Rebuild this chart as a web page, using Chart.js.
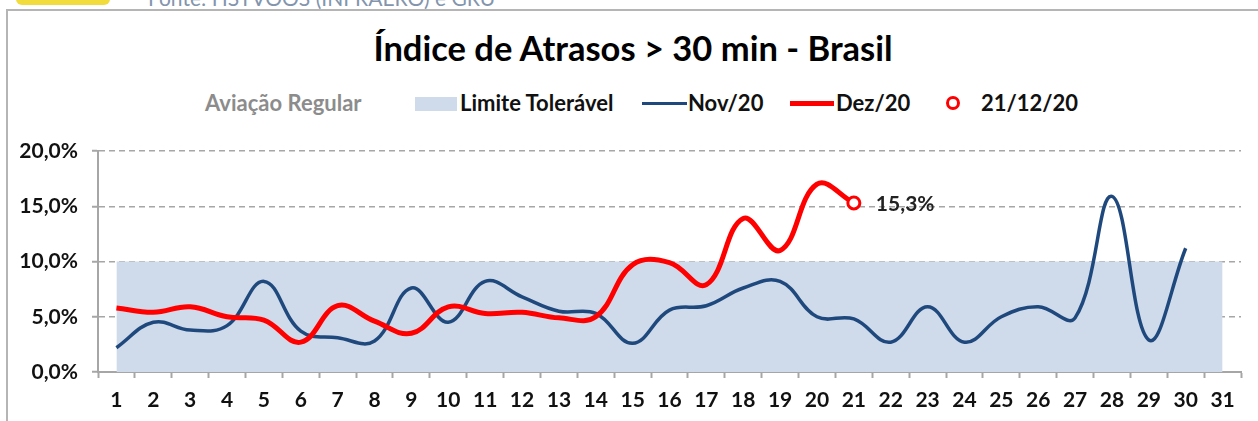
<!DOCTYPE html>
<html>
<head>
<meta charset="utf-8">
<script src="https://cdn.jsdelivr.net/npm/chart.js@4"></script>
<style>
  body { margin: 0; background: #fff; font-family: Lato, sans-serif; }
  #page { position: relative; width: 1258px; height: 421px; overflow: hidden; }
  #logo { position: absolute; left: 16px; top: -10px; width: 94px; height: 15px; background: #f2dc3c; border-radius: 0 0 6px 6px; }
  #fonte { position: absolute; left: 148px; top: -15px; font-size: 21px; color: #8395ad; white-space: nowrap; }
  #frame { position: absolute; left: 6px; top: 9px; width: 1300px; height: 500px; border: 2px solid #b5b5b5; }
  #title { position: absolute; left: 0; width: 1266px; top: 28px; line-height: 40px; text-align: center; font-size: 34.5px; font-weight: bold; color: #000; }
  .lg { position: absolute; top: 91px; font-size: 22px; font-weight: bold; color: #111; white-space: nowrap; line-height: 24px; }
  .sw { position: absolute; }
  canvas { position: absolute; left: 0; top: 0; }
</style>
</head>
<body>
<div id="page">
  <div id="logo"></div>
  <div id="fonte">Fonte: HSTVOOS (INFRAERO) e GRU</div>
  <div id="frame"></div>
  <div id="title">Índice de Atrasos &gt; 30 min - Brasil</div>
  <div id="legend"></div>
  <canvas id="chart" width="1258" height="421"></canvas>
</div>
<script>
// dias do mês
const days = ['1', '2', '3', '4', '5', '6', '7', '8', '9', '10', '11', '12', '13', '14', '15', '16',
  '17', '18', '19', '20', '21', '22', '23', '24', '25', '26', '27', '28', '29', '30', '31'];

// limite tolerável (%)
const limite = [10, 10, 10, 10, 10, 10, 10, 10, 10, 10, 10, 10, 10, 10, 10, 10,
  10, 10, 10, 10, 10, 10, 10, 10, 10, 10, 10, 10, 10, 10, 10];

// Nov/20 (%)
const nov = [2.2, 4.5, 3.8, 4.2, 8.2, 3.7, 3.1, 2.8, 7.6, 4.5, 8.2, 6.8, 5.5, 5.3, 2.6, 5.6,
  6.0, 7.6, 8.2, 5.0, 4.8, 2.7, 5.9, 2.7, 5.0, 5.9, 4.9, 15.9, 2.9, 11.2, null];

// Dez/20 (%) até o dia 21
const dez = [5.8, 5.4, 5.9, 5.0, 4.7, 2.7, 6.0, 4.6, 3.5, 5.9, 5.3, 5.4, 4.9, 5.0, 9.7, 9.9,
  7.9, 13.9, 11.0, 17.0, 15.3];

const yTicks = [0, 5, 10, 15, 20];
const lastDay = 20; // índice de 21/12/20

const blue = '#1f497d';
const red = '#ff0000';
const band = '#cfdbea';
const gridGray = '#a6a6a6';

const fmt = v => v.toFixed(1).replace('.', ',') + '%';

// marcador do último dia
const marker = days.map((d, i) => (i === lastDay ? dez[i] : null));

// legenda em html
const legendItems = [
  { left: 205, text: 'Aviação Regular', color: '#8c8c8c' },
  { left: 460, text: 'Limite Tolerável', sw: { left: 415, top: 97, width: 42, height: 14, background: band } },
  { left: 688, text: 'Nov/20', sw: { left: 642, top: 102, width: 45, height: 3, background: blue } },
  { left: 836, text: 'Dez/20', sw: { left: 790, top: 101, width: 44, height: 5, background: red } },
  { left: 981, text: '21/12/20', sw: { left: 946, top: 96, width: 8, height: 8, background: '#fff', border: '3px solid ' + red, borderRadius: '50%' } }
];
const legendEl = document.getElementById('legend');
legendItems.forEach(item => {
  if (item.sw) {
    const s = document.createElement('div');
    s.className = 'sw';
    Object.keys(item.sw).forEach(k => {
      s.style[k] = typeof item.sw[k] === 'number' ? item.sw[k] + 'px' : item.sw[k];
    });
    legendEl.appendChild(s);
  }
  const t = document.createElement('div');
  t.className = 'lg';
  t.style.left = item.left + 'px';
  if (item.color) t.style.color = item.color;
  t.textContent = item.text;
  legendEl.appendChild(t);
});

// rótulo do último ponto
const pointLabel = {
  id: 'pointLabel',
  afterDatasetsDraw(chart) {
    const el = chart.getDatasetMeta(3).data[lastDay];
    if (!el) return;
    const ctx = chart.ctx;
    ctx.save();
    ctx.font = 'bold 21px Lato';
    ctx.fillStyle = '#222';
    ctx.textAlign = 'left';
    ctx.textBaseline = 'middle';
    ctx.fillText(fmt(dez[lastDay]), el.x + 22, el.y + 1);
    ctx.restore();
  }
};

const ctx = document.getElementById('chart').getContext('2d');
new Chart(ctx, {
  type: 'line',
  data: {
    labels: days,
    datasets: [{
      label: 'Limite Tolerável',
      data: limite,
      backgroundColor: band,
      borderWidth: 0,
      pointRadius: 0,
      fill: 'origin',
      tension: 0,
      order: 4
    }, {
      label: 'Nov/20',
      data: nov,
      borderColor: blue,
      borderWidth: 3.5,
      pointRadius: 0,
      fill: false,
      tension: 0.4,
      order: 3
    }, {
      label: 'Dez/20',
      data: dez,
      borderColor: red,
      borderWidth: 5,
      pointRadius: 0,
      fill: false,
      tension: 0.4,
      order: 2
    }, {
      label: '21/12/20',
      data: marker,
      showLine: false,
      pointRadius: 6,
      pointBorderWidth: 3,
      pointBorderColor: red,
      pointBackgroundColor: '#fff',
      order: 1
    }]
  },
  options: {
    responsive: false,
    animation: false,
    clip: false,
    layout: { padding: { top: 151, right: 17, left: 0, bottom: 0 } },
    plugins: {
      legend: { display: false },
      title: { display: false },
      tooltip: { enabled: false }
    },
    scales: {
      x: {
        offset: true,
        grid: { display: true, drawOnChartArea: false, drawTicks: true, tickLength: 6, offset: true, tickColor: gridGray, tickWidth: 2 },
        border: { color: gridGray, width: 2 },
        ticks: { color: '#111', font: { family: 'Lato', size: 21, weight: 'bold' }, padding: 10, maxRotation: 0, autoSkip: false },
        afterFit: s => { s.height = 49; }
      },
      y: {
        min: 0,
        max: 20,
        afterBuildTicks: s => { s.ticks = yTicks.map(v => ({ value: v })); },
        grid: { color: gridGray, lineWidth: 1.5, drawTicks: true, tickLength: 6, tickColor: gridGray, tickWidth: 2 },
        border: { color: gridGray, width: 2, dash: [6, 4] },
        ticks: { color: '#111', font: { family: 'Lato', size: 21, weight: 'bold' }, padding: 14, callback: v => fmt(v) },
        afterFit: s => { s.width = 98; }
      }
    }
  },
  plugins: [pointLabel]
});
</script>
</body>
</html>
